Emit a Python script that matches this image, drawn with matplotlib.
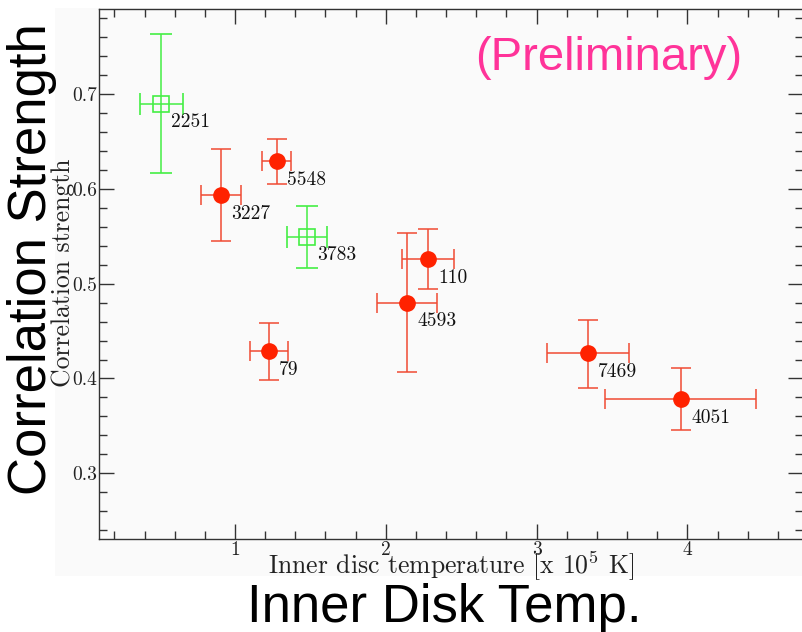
import matplotlib
matplotlib.use("Agg")
import matplotlib.pyplot as plt
from matplotlib.patches import Rectangle
from matplotlib.ticker import MultipleLocator, FixedLocator, FixedFormatter
import numpy as np

plt.rcParams['mathtext.fontset'] = 'cm'
plt.rcParams['axes.formatter.use_mathtext'] = True

# ---- data ----
red_names = ['5548', '3227', '110', '4593', '79', '7469', '4051']
red_x     = [1.277, 0.905, 2.282, 2.141, 1.225, 3.341, 3.956]
red_x_lo  = [1.181, 0.773, 2.109, 1.944, 1.097, 3.071, 3.456]
red_x_hi  = [1.373, 1.040, 2.450, 2.338, 1.353, 3.611, 4.457]
red_y     = [0.629, 0.593, 0.526, 0.480, 0.429, 0.4265, 0.378]
red_y_lo  = [0.605, 0.545, 0.494, 0.407, 0.398, 0.390, 0.3455]
red_y_hi  = [0.653, 0.642, 0.558, 0.553, 0.459, 0.462, 0.411]

green_names = ['2251', '3783']
green_x     = [0.509, 1.475]
green_x_lo  = [0.370, 1.345]
green_x_hi  = [0.653, 1.608]
green_y     = [0.690, 0.5495]
green_y_lo  = [0.617, 0.517]
green_y_hi  = [0.763, 0.582]

x_ticks = [1, 2, 3, 4]
x_tick_labels = ['1', '2', '3', '4']
y_ticks = [0.3, 0.4, 0.5, 0.6, 0.7]
y_tick_labels = ['0.3', '0.4', '0.5', '0.6', '0.7']

# ---- figure ----
fig = plt.figure(figsize=(8.03, 6.32), dpi=100)
bg = Rectangle((55/803, 56/632), 1 - 55/803, (576-8)/632,
               transform=fig.transFigure, facecolor='#fafafa',
               edgecolor='none', zorder=-10)
fig.patches.append(bg)
ax = fig.add_axes([99/803, 93/632, 1 - 99/803, (539-9)/632])
ax.set_facecolor('#fafafa')
ax.set_zorder(1)

serif = 'cmr10'
red_line = '#f04a33'
red_fill = '#ff2200'
green_line = '#44ee44'

def errs(v, lo, hi):
    v = np.array(v); lo = np.array(lo); hi = np.array(hi)
    return np.vstack([v - lo, hi - v])

ax.errorbar(green_x, green_y, xerr=errs(green_x, green_x_lo, green_x_hi),
            yerr=errs(green_y, green_y_lo, green_y_hi), fmt='s',
            ms=11.5, mfc='none', mec=green_line, mew=1.2, ecolor=green_line,
            elinewidth=1.1, capsize=8, capthick=1.1, zorder=3)
ax.errorbar(red_x, red_y, xerr=errs(red_x, red_x_lo, red_x_hi),
            yerr=errs(red_y, red_y_lo, red_y_hi), fmt='o',
            ms=11, mfc=red_fill, mec=red_fill, ecolor=red_line,
            elinewidth=1.1, capsize=7.5, capthick=1.1, zorder=3)

for names, xs, ys in [(green_names, green_x, green_y), (red_names, red_x, red_y)]:
    for n, x, y in zip(names, xs, ys):
        ax.annotate(n, (x, y), xytext=(7.5, -13.5), textcoords='offset points',
                    ha='left', va='center', fontsize=14, family=serif,
                    color='#111111', zorder=4)

ax.set_xlim(0.098, 4.767)
ax.set_ylim(0.2307, 0.7897)

ax.xaxis.set_major_locator(FixedLocator(x_ticks))
ax.xaxis.set_major_formatter(FixedFormatter(x_tick_labels))
ax.yaxis.set_major_locator(FixedLocator(y_ticks))
ax.yaxis.set_major_formatter(FixedFormatter(y_tick_labels))
ax.xaxis.set_minor_locator(MultipleLocator(0.2))
ax.yaxis.set_minor_locator(MultipleLocator(0.02))

tc = '#333333'
ax.tick_params(which='both', direction='in', top=True, right=True, color=tc,
               width=1.0, labelsize=14, labelcolor='#222222')
ax.tick_params(which='major', length=11)
ax.tick_params(which='minor', length=6)
ax.tick_params(axis='x', pad=1.5)
ax.tick_params(axis='y', pad=1.5)
for lab in ax.get_xticklabels() + ax.get_yticklabels():
    lab.set_family(serif)
for s in ['left', 'bottom', 'top']:
    ax.spines[s].set_color(tc)
    ax.spines[s].set_linewidth(1.0)
ax.spines['right'].set_visible(False)

ax.set_xlabel(r'Inner disc temperature [x $10^5$ K]', family=serif,
              fontsize=18.5, color='#222222', va='center')
ax.xaxis.set_label_coords((451.5-99)/704, (539-566)/530)
ax.set_ylabel('Correlation strength', family=serif, fontsize=18.5,
              color='#222222', va='center')
ax.yaxis.set_label_coords((63-99)/704, (539-273)/530)

# ---- overlay texts ----
fig.text(32/803, 1 - 259/632, 'Correlation Strength', rotation=90,
         ha='center', va='center', fontsize=38, family='Liberation Sans',
         color='black', zorder=5)
fig.text(444/803, 10/632, 'Inner Disk Temp.', ha='center', va='baseline',
         fontsize=38, family='Liberation Sans', color='black', zorder=5)
fig.text(608.5/803, 1 - 70/632, '(Preliminary)', ha='center', va='baseline',
         fontsize=34, family='Liberation Sans', color='#ff3399', zorder=5)

fig.savefig('out.png', dpi=100)
